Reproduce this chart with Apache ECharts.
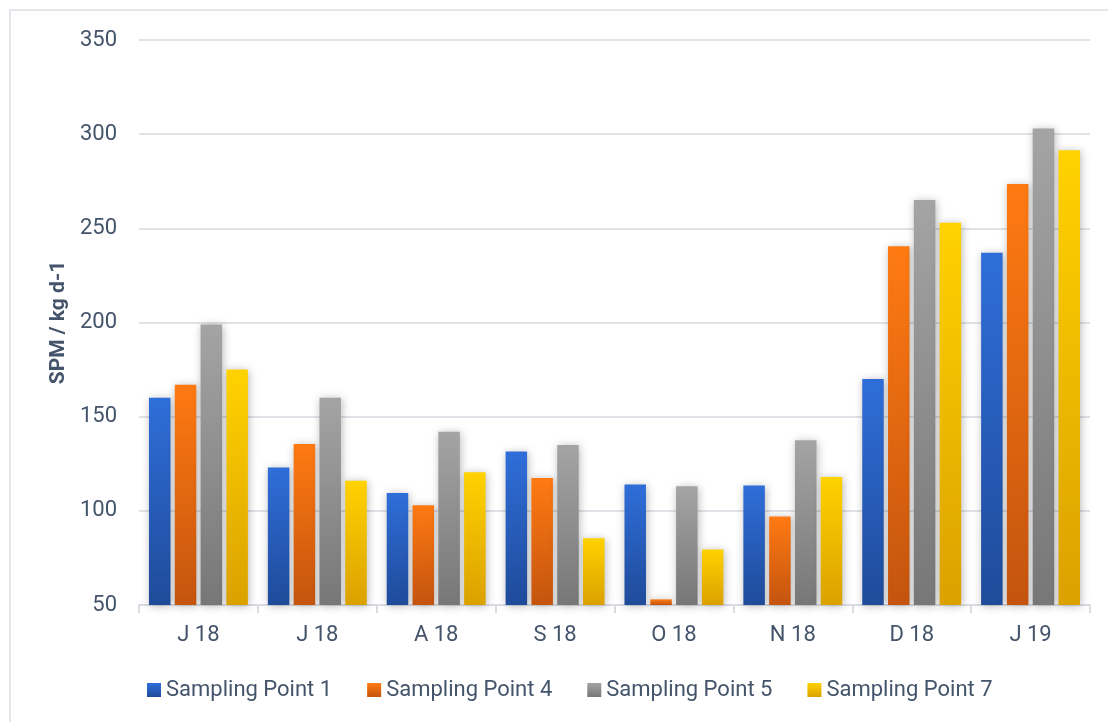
<!DOCTYPE html>
<html>
<head>
<meta charset="utf-8">
<script src="https://cdn.jsdelivr.net/npm/echarts@6/dist/echarts.min.js"></script>
<style>
  html, body { margin: 0; padding: 0; background: #ffffff; }
  #frame { position: absolute; left: 9px; top: 9px; width: 1110px; height: 730px;
           border: 2px solid #e3e7ec; box-sizing: border-box; }
  #chart { position: absolute; left: 0; top: 0; width: 1108px; height: 722px; }
</style>
</head>
<body>
<div id="frame"></div>
<div id="chart"></div>
<script>
// Monthly SPM load per sampling point
const months = ['J 18', 'J 18', 'A 18', 'S 18', 'O 18', 'N 18', 'D 18', 'J 19'];
const seriesNames = ['Sampling Point 1', 'Sampling Point 4', 'Sampling Point 5', 'Sampling Point 7'];
const point1 = [160, 123, 109.5, 131.5, 114, 113.5, 170, 237];
const point4 = [167, 135.5, 103, 117.5, 53, 97, 240.5, 273.5];
const point5 = [199, 160, 142, 135, 113, 137.5, 265, 303];
const point7 = [175, 116, 120.5, 85.5, 79.5, 118, 253, 291.5];
const yTicks = [50, 100, 150, 200, 250, 300, 350];

const seriesValues = [point1, point4, point5, point7];
const gradients = [
  ['#2f6ed9', '#1f4b9a'],
  ['#ff7a12', '#c4540e'],
  ['#a4a4a4', '#777777'],
  ['#ffd200', '#dba100']
];

const textColor = '#44546a';
const fontFamily = '"Liberation Sans Narrow", "Roboto", sans-serif';

const chart = echarts.init(document.getElementById('chart'), null, { renderer: 'canvas' });

chart.setOption({
  backgroundColor: 'transparent',
  animation: false,
  textStyle: { fontFamily: fontFamily, color: textColor },
  grid: { left: 139, right: 18, top: 40, bottom: 117, containLabel: false },
  legend: {
    left: 147,
    top: 679,
    padding: 0,
    itemWidth: 14,
    itemHeight: 14,
    itemGap: 35,
    icon: 'rect',
    textStyle: { fontFamily: fontFamily, fontSize: 22, color: textColor },
    data: seriesNames
  },
  xAxis: {
    type: 'category',
    data: months,
    axisLine: { show: true, lineStyle: { color: '#d9dde3', width: 2 } },
    axisTick: { show: true, length: 8, lineStyle: { color: '#d9dde3', width: 2 } },
    axisLabel: { fontSize: 22, color: textColor, margin: 19, fontFamily: fontFamily },
    splitLine: { show: false }
  },
  yAxis: {
    type: 'value',
    min: yTicks[0],
    max: yTicks[yTicks.length - 1],
    interval: yTicks[1] - yTicks[0],
    name: 'SPM / kg d-1',
    nameLocation: 'middle',
    nameGap: 70,
    nameRotate: 90,
    nameTextStyle: { fontSize: 21, fontWeight: 'bold', color: textColor, fontFamily: fontFamily },
    axisLine: { show: false },
    axisTick: { show: false },
    axisLabel: { fontSize: 22, color: textColor, margin: 22, fontFamily: fontFamily },
    splitLine: { show: true, lineStyle: { color: '#dfe3e8', width: 2 } }
  },
  series: seriesNames.map((name, i) => ({
    name: name,
    type: 'bar',
    data: seriesValues[i],
    barWidth: 21.5,
    barGap: '20%',
    itemStyle: {
      color: new echarts.graphic.LinearGradient(0, 0, 0, 1, [
        { offset: 0, color: gradients[i][0] },
        { offset: 1, color: gradients[i][1] }
      ]),
      shadowBlur: 8,
      shadowColor: 'rgba(0,0,0,0.28)',
      shadowOffsetX: 1,
      shadowOffsetY: 1
    }
  }))
});
</script>
</body>
</html>
